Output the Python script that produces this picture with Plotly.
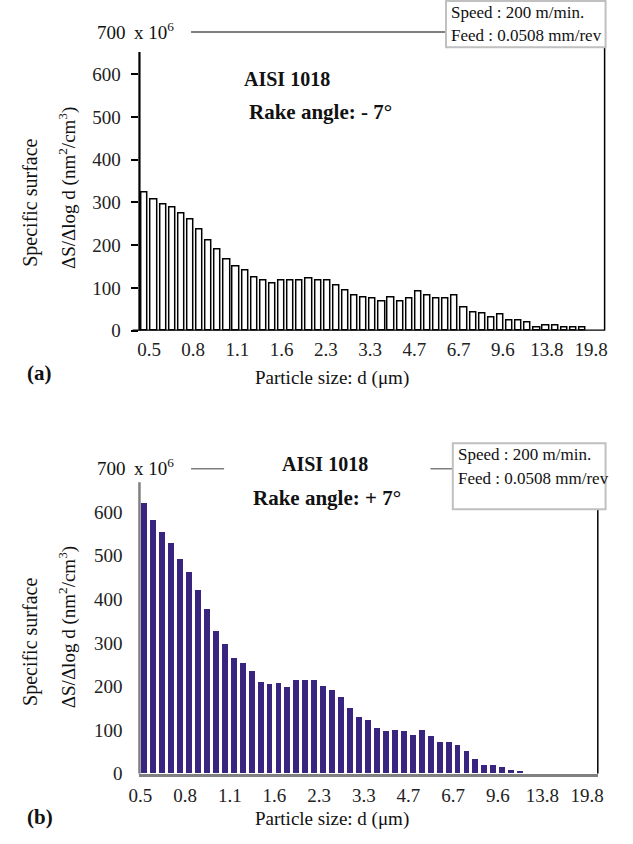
import plotly.graph_objects as go

W, H = 633, 844

size_labels = ["0.5", "0.8", "1.1", "1.6", "2.3", "3.3", "4.7", "6.7", "9.6", "13.8", "19.8"]

# Panel (a): rake angle -7 deg, values x 10^6 nm^2/cm^3
surface_a = [322, 307, 296, 287, 273, 259, 237, 210, 190, 167,
             150, 141, 125, 118, 111, 116, 116, 116, 122, 116,
             116, 106, 94, 83, 77, 76, 69, 77, 69, 74,
             91, 83, 76, 76, 82, 54, 42, 41, 31, 37,
             23, 23, 18, 8, 12, 12, 8, 6, 6]

# Panel (b): rake angle +7 deg
surface_b = [620, 581, 554, 527, 491, 462, 421, 376, 326, 296,
             265, 253, 235, 210, 204, 208, 199, 213, 215, 215,
             201, 190, 174, 149, 129, 122, 104, 97, 100, 97,
             88, 100, 86, 72, 72, 66, 52, 32, 20, 20,
             14, 7, 5]

y_ticks = [0, 100, 200, 300, 400, 500, 600]

FONT = "Liberation Serif"
BAR_B = "#392480"


def px_x(p):
    return p / W


def px_y(p):
    return 1 - p / H


fig = go.Figure()

fig.add_trace(go.Bar(
    x=list(range(len(surface_a))), y=surface_a, width=0.68,
    marker=dict(color="white", line=dict(color="black", width=1.5)),
    xaxis="x", yaxis="y", showlegend=False))

fig.add_trace(go.Bar(
    x=list(range(len(surface_b))), y=surface_b, width=0.66,
    marker=dict(color=BAR_B, line=dict(width=0)),
    xaxis="x2", yaxis="y2", showlegend=False))

tick_a = [0.46 + 4.85 * k for k in range(len(size_labels))]
tick_b = [-0.47 + 4.99 * k for k in range(len(size_labels))]

tickfont = dict(family=FONT, size=19, color="#222")

fig.update_layout(
    width=W, height=H,
    margin=dict(l=0, r=0, t=0, b=0),
    paper_bgcolor="white", plot_bgcolor="white",
    bargap=0,
    xaxis=dict(domain=[px_x(132), px_x(610)], range=[-0.59, 50.43],
               tickmode="array", tickvals=tick_a, ticktext=size_labels,
               showgrid=False, zeroline=False, showline=False,
               ticks="", tickfont=tickfont, anchor="y", ticklabelstandoff=5),
    yaxis=dict(domain=[px_y(335), px_y(32)], range=[0, 700],
               tickmode="array", tickvals=y_ticks,
               showgrid=False, zeroline=False, showline=False,
               ticks="outside", ticklen=7, tickwidth=1.5, tickcolor="black",
               tickfont=tickfont, anchor="x", ticklabelstandoff=7),
    xaxis2=dict(domain=[px_x(132), px_x(603)], range=[-0.58, 50.62],
                tickmode="array", tickvals=tick_b, ticktext=size_labels,
                showgrid=False, zeroline=False, showline=True,
                linecolor="#808080", linewidth=2.5,
                ticks="", tickfont=tickfont, anchor="y2", ticklabelstandoff=3),
    yaxis2=dict(domain=[px_y(784), px_y(474.6)], range=[0, 700],
                tickmode="array", tickvals=y_ticks,
                showgrid=False, zeroline=False, showline=False,
                ticks="", tickfont=tickfont, anchor="x2", ticklabelstandoff=16),
)

shapes = []
# Panel (a) frame pieces
shapes.append(dict(type="line", xref="paper", yref="y", x0=px_x(125), x1=px_x(610), y0=0, y1=0,
                   line=dict(color="black", width=2.2)))
shapes.append(dict(type="line", xref="x domain", yref="y", x0=0, x1=0, y0=0, y1=652,
                   line=dict(color="black", width=2.2)))
shapes.append(dict(type="line", xref="x domain", yref="y", x0=1, x1=1, y0=0, y1=663,
                   line=dict(color="black", width=1.5)))
shapes.append(dict(type="line", xref="paper", yref="y", x0=px_x(185), x1=px_x(447), y0=700, y1=700,
                   line=dict(color="black", width=1.8)))
# Panel (b) frame pieces
shapes.append(dict(type="line", xref="x2 domain", yref="y2", x0=0, x1=0, y0=0, y1=668,
                   line=dict(color="#808080", width=2.5)))
shapes.append(dict(type="line", xref="x2 domain", yref="y2", x0=1, x1=1, y0=0, y1=606,
                   line=dict(color="black", width=1.5)))
shapes.append(dict(type="line", xref="paper", yref="y2", x0=px_x(185), x1=px_x(219), y0=700, y1=700,
                   line=dict(color="black", width=1.8)))
shapes.append(dict(type="line", xref="paper", yref="y2", x0=px_x(431), x1=px_x(454), y0=700, y1=700,
                   line=dict(color="black", width=1.8)))
# info boxes
shapes.append(dict(type="rect", xref="paper", yref="paper", x0=px_x(447), x1=px_x(611),
                   y0=px_y(48), y1=px_y(1), line=dict(color="#c0c0c0", width=2), fillcolor="white"))
shapes.append(dict(type="rect", xref="paper", yref="paper", x0=px_x(454), x1=px_x(611),
                   y0=px_y(516), y1=px_y(449), line=dict(color="#c0c0c0", width=2), fillcolor="white"))

ann = []


def txt(x, y, s, size=16, bold=False, angle=0, xanchor="center", yanchor="middle"):
    if bold:
        s = "<b>" + s + "</b>"
    ann.append(dict(xref="paper", yref="paper", x=px_x(x), y=px_y(y), text=s, showarrow=False,
                    font=dict(family=FONT, size=size, color="#111"), textangle=angle,
                    xanchor=xanchor, yanchor=yanchor))


# panel (a) texts
txt(86, 33, "700", size=19, xanchor="left")
txt(124, 31, "x 10<sup>6</sup>", size=19, xanchor="left")
txt(284, 80, "AISI 1018", size=20, bold=True)
txt(318, 113, "Rake angle: - 7°", size=21, bold=True)
txt(450, 13, "Speed : 200 m/min.", size=17, xanchor="left")
txt(450, 36, "Feed : 0.0508 mm/rev", size=17, xanchor="left")
txt(20, 205, "Specific surface", size=20, angle=-90)
txt(58, 190, "ΔS/Δlog d (nm<sup>2</sup>/cm<sup>3</sup>)", size=19, angle=-90)
txt(330, 383, "Particle size: d (μm)", size=19)
txt(14, 378, "(a)", size=21, bold=True, xanchor="left")

# panel (b) texts
txt(86, 475, "700", size=19, xanchor="left")
txt(124, 473, "x 10<sup>6</sup>", size=19, xanchor="left")
txt(323, 470, "AISI 1018", size=20, bold=True)
txt(325, 505, "Rake angle: + 7°", size=21, bold=True)
txt(457, 461, "Speed : 200 m/min.", size=17, xanchor="left")
txt(457, 485, "Feed : 0.0508 mm/rev", size=17, xanchor="left")
txt(20, 650, "Specific surface", size=20, angle=-90)
txt(58, 635, "ΔS/Δlog d (nm<sup>2</sup>/cm<sup>3</sup>)", size=19, angle=-90)
txt(330, 830, "Particle size: d (μm)", size=19)
txt(14, 828, "(b)", size=21, bold=True, xanchor="left")

fig.update_layout(shapes=shapes, annotations=ann)

fig.write_html("out.html")
